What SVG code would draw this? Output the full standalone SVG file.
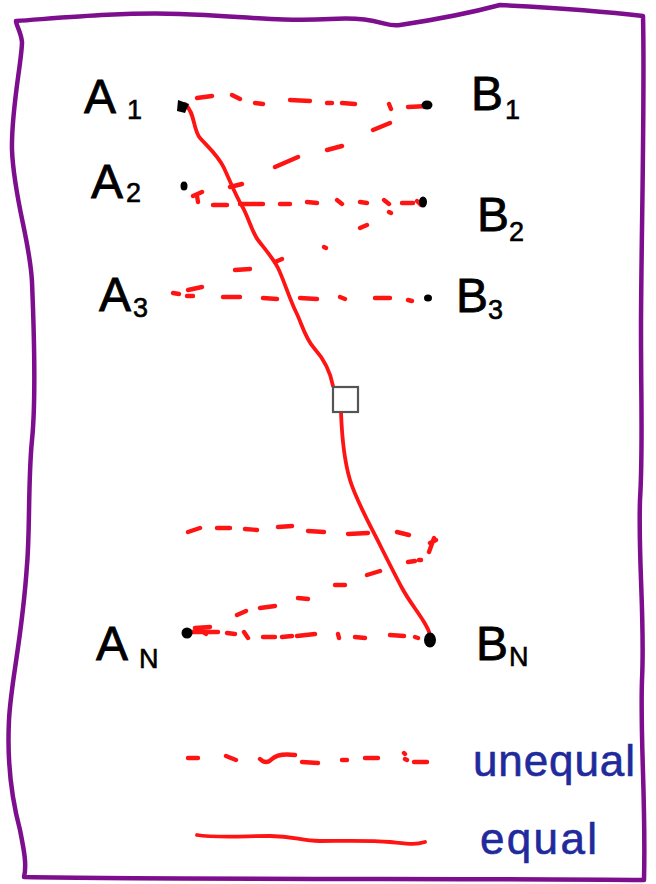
<svg xmlns="http://www.w3.org/2000/svg" width="656" height="884" viewBox="0 0 656 884">
<style>
.frame{fill:none;stroke:#7d0f8e;stroke-width:4.5;stroke-linecap:round;stroke-linejoin:round}
.dash{fill:none;stroke:#ff1414;stroke-width:4.4;stroke-linecap:round;stroke-linejoin:round}
.solid{fill:none;stroke:#ff1414;stroke-width:3.8;stroke-linecap:round;stroke-linejoin:round}
.lbl{font-family:"Liberation Sans",Arial,sans-serif;font-size:48px;fill:#000;stroke:#000;stroke-width:0.8}
.sub{font-family:"Liberation Sans",Arial,sans-serif;font-size:27px;fill:#000;stroke:#000;stroke-width:0.6}
.leg{font-family:"Liberation Sans",Arial,sans-serif;fill:#1f2a9c;stroke:#1f2a9c;stroke-width:0.6}
.dot{fill:#000}
</style>
<rect width="656" height="884" fill="#fff"/>
<path class="frame" d="M16 21 C 60 18, 120 12, 180 14 S 280 22, 330 19 S 385 28, 400 25 C 440 19, 470 13, 500 5 C 560 8, 610 12, 643 16 C 645 100, 641 250, 641 330 S 643 450, 640 500 C 638 560, 645 620, 642 680 C 640 740, 646 800, 644 880 C 500 878, 200 880, 24 877 C 27 865, 24 850, 20 830 C 12 800, 7 760, 9 720 C 11 680, 22 640, 27 565 C 30 530, 28 480, 32 440 C 36 400, 34 330, 32 282 C 30 240, 14 200, 12 150 C 11 110, 22 60, 22 42 C 21 32, 16 25, 16 21"/>
<g id="connectors">
<path class="solid" d="M185 104 C 195 112, 193 130, 200 138 S 218 155, 224 168 S 236 196, 242 206 S 252 232, 258 240 S 273 258, 278 268 S 290 300, 296 312 S 305 338, 314 348 S 330 370, 333 386"/>
<path class="solid" d="M341 412 C 342 440, 344 460, 350 480 S 370 525, 380 545 S 395 575, 402 588 S 418 612, 424 622 S 430 634, 430 640"/>
<path class="dash" d="M197 98 L212 96 M232 95 L240 99 M255 103 L263 104 M290 100 L310 101 M327 103 L332 103 M342 103 L355 104 M389 104 L391 109 M408 107 L428 106"/>
<path class="dash" d="M373 130 L390 123 M327 150 L342 146 M275 167 L298 157 M230 187 L242 184 M193 196 L202 192 M197 196 L198 202"/>
<path class="dash" d="M213 205 L227 205 M240 204 L263 204 M280 204 L290 204 M307 202 L317 203 M337 200 L342 204 M360 202 L367 203 M384 200 L389 204 M402 203 L413 203 M417 201 L421 205"/>
<path class="dash" d="M389 212 L391 213 M360 228 L367 225 M324 247 L326 248 M275 262 L282 259 M235 270 L250 269"/>
<path class="dash" d="M173 293 L179 294 M188 290 L202 287 M187 296 L193 296 M223 297 L240 297 M263 298 L277 299 M300 298 L317 299 M340 297 L345 299 M375 298 L390 298 M408 300 L412 301"/>
<path class="dash" d="M188 532 L200 528 M217 528 L230 528 M245 529 L257 530 M278 527 L292 526 M308 531 L324 532 M348 534 L368 533 M397 532 L409 535"/>
<path class="dash" d="M429 552 L434 538 M430 543 L436 540 M408 562 L415 561 M419 560 L421 560 M367 575 L380 571 M335 585 L345 585 M298 598 L308 599 M260 608 L275 606 M237 615 L246 611"/>
<path class="dash" d="M190 632 L218 632 M195 628 L210 627 M200 630 L206 634 M227 633 L235 634 M244 632 L248 638 M263 637 L275 637 M282 637 L292 636 M297 636 L315 634 M338 634 L339 638 M355 637 L365 638 M390 635 L404 636 M415 637 L418 638"/>
</g>
<g id="A1"><text class="lbl" x="84" y="113">A</text><text class="sub" x="127" y="119">1</text><path class="dot" d="M178 100 L189 104 L185 113 L177 111 Z"/></g>
<g id="A2"><text class="lbl" x="91" y="198">A</text><text class="sub" x="126" y="202">2</text><ellipse class="dot" cx="184" cy="186" rx="3.5" ry="4.5"/></g>
<g id="A3"><text class="lbl" x="99" y="311">A</text><text class="sub" x="133" y="317">3</text></g>
<g id="AN"><text class="lbl" x="96" y="660">A</text><text class="sub" x="139" y="668">N</text><ellipse class="dot" cx="187" cy="633" rx="5.5" ry="5.5"/></g>
<g id="B1"><text class="lbl" x="471" y="110">B</text><text class="sub" x="505" y="119">1</text><ellipse class="dot" cx="427" cy="105" rx="5.5" ry="4.5"/></g>
<g id="B2"><text class="lbl" x="477" y="231">B</text><text class="sub" x="509" y="241">2</text><ellipse class="dot" cx="423" cy="202" rx="4" ry="5.5"/></g>
<g id="B3"><text class="lbl" x="456" y="312">B</text><text class="sub" x="488" y="319">3</text><ellipse class="dot" cx="428" cy="298" rx="4" ry="3.5"/></g>
<g id="BN"><text class="lbl" x="476" y="660">B</text><text class="sub" x="509" y="666">N</text><ellipse class="dot" cx="430" cy="640" rx="6" ry="7.5"/></g>
<g id="mid"><rect x="333" y="387" width="25" height="25" fill="#fff" stroke="#555" stroke-width="2.2"/></g>
<g id="legend">
<path class="dash" d="M188 758 L198 758 M226 756 L236 760 M260 759 Q 266 765, 272 759 T 295 755 M302 762 L318 763 M342 760 L347 760 M365 758 L378 758 M404 753 L405 754 M405 759 L407 760 M414 762 L427 762"/>
<path class="solid" d="M197 835 C 215 838, 245 836, 270 836 S 300 841, 320 841 S 370 840, 390 842 S 415 845, 425 842"/>
<text class="leg" x="473" y="776" font-size="44" textLength="162" lengthAdjust="spacing">unequal</text>
<text class="leg" x="480" y="854" font-size="44" textLength="117" lengthAdjust="spacing">equal</text>
</g>
</svg>
